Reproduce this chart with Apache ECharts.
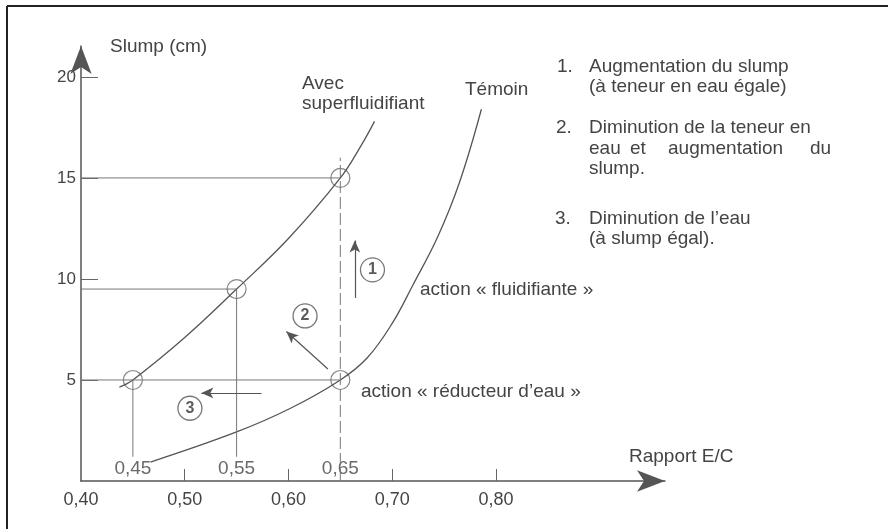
<!DOCTYPE html>
<html>
<head>
<meta charset="utf-8">
<script src="https://cdn.jsdelivr.net/npm/echarts@6/dist/echarts.min.js"></script>
<style>
  html, body { margin: 0; padding: 0; background: #fff; }
  #chart { width: 888px; height: 529px; }
</style>
</head>
<body>
<div id="chart"></div>
<script>
// courbe avec superfluidifiant
const avecX = [0.437, 0.45, 0.50, 0.55, 0.60, 0.65, 0.67, 0.683];
const avecY = [4.65, 5, 7.1, 9.5, 12.0, 15, 16.6, 17.8];
// courbe témoin
const temoinX = [0.467, 0.55, 0.602, 0.65, 0.676, 0.70, 0.72, 0.744, 0.765, 0.786];
const temoinY = [0.94, 2.43, 3.6, 5, 6.1, 7.8, 9.7, 12.1, 14.8, 18.4];
// points cerclés
const pointX = [0.45, 0.55, 0.65, 0.65];
const pointY = [5, 9.5, 15, 5];
const pointLabels = ['0,45', '0,55', '0,65'];
// flèches numérotées
const stepNames = ['1', '2', '3'];
const stepX = [0.681, 0.616, 0.505];
const stepY = [10.45, 8.17, 3.6];
const arrowFrom = [[0.664, 9.06], [0.638, 5.54], [0.574, 4.36]];
const arrowTo = [[0.664, 11.9], [0.598, 7.4], [0.516, 4.36]];
// axes
const xTicks = [0.5, 0.6, 0.7, 0.8];
const xLabels = [0.4, 0.5, 0.6, 0.7, 0.8];
const yTicks = [5, 10, 15, 20];

const font = "'Liberation Sans', Arial, sans-serif";
const ink = '#444';
const lineCol = '#555';

const chart = echarts.init(document.getElementById('chart'));

function txt(t, x, y, size) {
    return {
        type: 'text', left: x, top: y - (size || 19) / 2 - 1,
        style: { text: t, font: (size || 19) + 'px ' + font, fill: ink }
    };
}

const guides = [
    { d: [[0.40, pointY[0]], [pointX[3], pointY[3]]] },
    { d: [[0.40, pointY[1]], [pointX[1], pointY[1]]] },
    { d: [[0.40, pointY[2]], [pointX[2], pointY[2]]] },
    { d: [[pointX[0], 1.2], [pointX[0], pointY[0]]] },
    { d: [[pointX[1], 1.2], [pointX[1], pointY[1]]] },
    { d: [[pointX[2], 0], [pointX[2], 16]], dash: true }
];

const series = [
    {
        name: 'Avec superfluidifiant', type: 'line', smooth: 0.4, showSymbol: false,
        data: avecX.map((x, i) => [x, avecY[i]]),
        lineStyle: { color: lineCol, width: 1.3 }
    },
    {
        name: 'Témoin', type: 'line', smooth: 0.4, showSymbol: false,
        data: temoinX.map((x, i) => [x, temoinY[i]]),
        lineStyle: { color: lineCol, width: 1.3 }
    }
];

guides.forEach(g => {
    series.push({
        type: 'line', showSymbol: false, silent: true, data: g.d,
        lineStyle: { color: '#777', width: 1, type: g.dash ? [12, 4] : 'solid' }
    });
});

series.push({
    type: 'scatter', symbol: 'circle', symbolSize: 19, silent: true,
    data: pointX.map((x, i) => [x, pointY[i]]),
    itemStyle: { color: 'rgba(0,0,0,0)', borderColor: '#666', borderWidth: 1.2 }
});

series.push({
    type: 'scatter', symbolSize: 1, silent: true,
    data: pointLabels.map((t, i) => ({ value: [pointX[i], 0.6], name: t })),
    itemStyle: { color: 'rgba(0,0,0,0)' },
    label: { show: true, position: 'inside', formatter: p => p.name, fontSize: 19, fontFamily: font, color: ink }
});

series.push({
    type: 'scatter', symbol: 'circle', symbolSize: 24, silent: true,
    data: stepNames.map((t, i) => ({ value: [stepX[i], stepY[i]], name: t })),
    itemStyle: { color: 'rgba(0,0,0,0)', borderColor: '#555', borderWidth: 1.3 },
    label: { show: true, position: 'inside', formatter: p => p.name, fontSize: 16, fontWeight: 'bold', fontFamily: font, color: '#333' }
});

series.push({
    type: 'line', data: [], silent: true,
    markLine: {
        silent: true, animation: false,
        symbol: ['none', 'arrow'], symbolSize: [8, 12],
        label: { show: false },
        lineStyle: { color: lineCol, width: 1.2, type: 'solid' },
        data: arrowFrom.map((f, i) => [{ coord: f }, { coord: arrowTo[i] }])
    }
});

chart.setOption({
    animation: false,
    grid: { left: 81, right: 223, top: 46, bottom: 48, containLabel: false },
    xAxis: {
        type: 'value', min: 0.40, max: 0.963,
        axisLine: { symbol: ['none', 'arrow'], symbolSize: [16, 28], lineStyle: { color: '#555', width: 1.5 } },
        axisTick: { inside: true, length: 12, customValues: xTicks, lineStyle: { color: '#666' } },
        axisLabel: {
            customValues: xLabels, margin: 10, fontSize: 18, fontFamily: font, color: ink,
            formatter: v => v.toFixed(2).replace('.', ',')
        },
        splitLine: { show: false }
    },
    yAxis: {
        type: 'value', min: 0, max: 21.53,
        axisLine: { symbol: ['none', 'arrow'], symbolSize: [16, 28], lineStyle: { color: '#555', width: 1.5 } },
        axisTick: { inside: true, length: 17, customValues: yTicks, lineStyle: { color: '#666' } },
        axisLabel: { customValues: yTicks, margin: 5, fontSize: 17, fontFamily: font, color: ink },
        splitLine: { show: false }
    },
    graphic: [
        { type: 'line', shape: { x1: 7, y1: 6, x2: 888, y2: 6 }, style: { stroke: '#222', lineWidth: 2 } },
        { type: 'line', shape: { x1: 7, y1: 6, x2: 7, y2: 529 }, style: { stroke: '#222', lineWidth: 2 } },
        txt('Slump (cm)', 110, 48),
        txt('Avec', 302, 85),
        txt('superfluidifiant', 302, 105),
        txt('Témoin', 465, 91),
        txt('action « fluidifiante »', 420, 291),
        txt('action « réducteur d\u2019eau »', 361, 393),
        txt('Rapport E/C', 629, 458),
        txt('1.', 557, 68),
        txt('Augmentation du slump', 589, 68),
        txt('(à teneur en eau égale)', 589, 88),
        txt('2.', 556, 129),
        txt('Diminution de la teneur en', 589, 129),
        txt('eau', 589, 150),
        txt('et', 630, 150),
        txt('augmentation', 668, 150),
        txt('du', 810, 150),
        txt('slump.', 589, 170),
        txt('3.', 555, 220),
        txt('Diminution de l\u2019eau', 589, 220),
        txt('(à slump égal).', 589, 240)
    ],
    series: series
});
</script>
</body>
</html>
